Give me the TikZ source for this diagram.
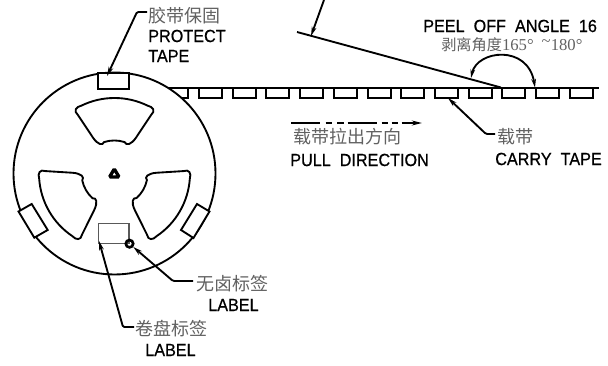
\documentclass[tikz,border=0pt]{standalone}
\usepackage{fontspec}
\usetikzlibrary{arrows.meta}
\newfontfamily\enfont[FakeStretch=0.92,FakeBold=0.6,WordSpace=2]{Liberation Sans}
\newfontfamily\cjkfont{Noto Sans CJK SC}
\newfontfamily\numfont{Liberation Serif}
\definecolor{cjkgray}{gray}{0.38}
\tikzset{
  en/.style={inner sep=0pt,anchor=west,font=\enfont\fontsize{13.2pt}{14pt}\selectfont},
  cn/.style={inner sep=0pt,anchor=west,text=cjkgray,font=\cjkfont\fontsize{13.5pt}{14pt}\selectfont},
  outline/.style={draw=black,line width=1.4pt,fill=white},
  thin outline/.style={draw=black!65,line width=.9pt},
  tapeline/.style={draw=black,line width=1.7pt},
  pocket/.style={draw=black,line width=1.5pt},
  leader/.style={draw=black,line width=1.4pt,-{Stealth[length=7pt,width=3.6pt]}},
}
\begin{document}
\begin{tikzpicture}[x=.75pt,y=.75pt,yscale=-1]
\useasboundingbox (0,0) rectangle (608,366);
% carrier tape
\foreach \i in {0,...,11}{
  \pgfmathsetmacro{\xa}{199+33.7*\i}
  \pgfmathsetmacro{\xb}{\xa+23}
  \draw[pocket,line join=miter] (\xa,88) -- (\xa,98) -- (\xb,98) -- (\xb,88);
}
\draw[pocket] (160,98) -- (188,98) -- (188,88);
\coordinate (tapeL) at (160,88);
\coordinate (tapeR) at (599,88);
\draw[tapeline] (tapeL) -- (tapeR);
% reel
\coordinate (C) at (114.5,173.5);
\node[circle,outline,minimum size=151.5pt,inner sep=0pt] (reel) at (C) {};
\foreach \a in {0,120,240}{
  \begin{scope}[shift={(C)},rotate=\a]
    \draw[line width=1.4pt,line join=round]
      (-116:75.5) arc[start angle=-116,end angle=-64,radius=56.625pt]
      .. controls (-60:77) and (-56.5:75) .. (-58:69)
      -- (-59:42)
      .. controls (-60:33) and (-67:30) .. (-72:33)
      arc[start angle=-72,end angle=-108,radius=25.125pt]
      .. controls (-113:30) and (-120:33) .. (-121:42)
      -- (-122:69)
      .. controls (-123.5:75) and (-120:77) .. cycle;
  \end{scope}
}
% hub
\draw[line width=2.5pt,rounded corners=1pt] (114.3,169) -- (109.5,177) -- (119.1,177) -- cycle;
% protect tapes
\node[outline,minimum width=23.2pt,minimum height=12pt,inner sep=0pt] (ptop) at (113.7,81) {};
\draw[outline] (18.5,211.5) coordinate (pl1) -- (31.7,204) -- (47.7,230) -- (34.3,237.7) -- cycle;
\draw[outline] (209.5,211.5) coordinate (pr1) -- (197,204) -- (181,230) -- (193.5,238) -- cycle;
% reel label
\node[thin outline,minimum width=22.8pt,minimum height=15pt,inner sep=0pt] (reellabel) at (113.8,233.7) {};
\node[circle,draw=black,line width=2pt,minimum size=5.5pt,inner sep=0pt] (dot) at (129.5,243.7) {};
% peel-off
\coordinate (peelO) at (501,87.5);
\coordinate (peelEnd) at (297,32);
\coordinate (peelHit) at (311,36);
\draw[line width=1.4pt] (peelO) -- (peelEnd);
\coordinate (arcA) at (471,78);
\draw[line width=1.4pt,{Stealth[length=6.5pt,width=3.5pt]}-{Stealth[length=6.5pt,width=3.5pt]}]
  (arcA) .. controls (477,50) and (528,44) .. (535,87.5);
% pull direction
\coordinate (pullA) at (291,123);
\coordinate (pullB) at (422,123);
\draw[line width=1.6pt,-{Stealth[length=7.5pt,width=3.6pt]},dash pattern=on 22pt off 4pt on 5pt off 3.5pt on 5pt off 3pt on 22pt off 3.5pt on 4.5pt off 3pt on 4.5pt off 3pt on 30pt]
  (pullA) -- (pullB);
% leaders
\coordinate (k1a) at (147,12); \coordinate (k1b) at (137,12);
\draw[leader,rounded corners=1pt] (k1a) -- (k1b) -- (107,76);
\coordinate (k2) at (324,0);
\draw[leader] (k2) -- (peelHit);
\coordinate (k3a) at (495,134); \coordinate (k3b) at (486,134);
\draw[leader,rounded corners=1pt] (k3a) -- (k3b) -- (448,98);
\coordinate (k4a) at (193,281); \coordinate (k4b) at (173,281);
\draw[leader,rounded corners=1pt] (k4a) -- (k4b) -- (dot);
\coordinate (k5a) at (134,327); \coordinate (k5b) at (123,327);
\draw[leader,rounded corners=1pt] (k5a) -- (k5b) -- (99,241);
% texts
\node[cn] (t1) at (148,16) {胶带保固};
\node[en] (t2) at (148,36) {PROTECT};
\node[en] (t3) at (148,56) {TAPE};
\node[en] (t4) at (423,26) {PEEL OFF ANGLE 16};
\node[cn,font=\cjkfont\fontsize{11.4pt}{12pt}\selectfont,text=cjkgray] (t5) at (441,45)
  {剥离角度{\numfont\fontsize{12.5pt}{13pt}\selectfont 165°\hspace{6pt}\raisebox{3pt}{\string~}180°}};
\node[cn] (t6) at (293,137) {载带拉出方向};
\node[en] (t7) at (290,160) {PULL DIRECTION};
\node[cn] (t8) at (497,137) {载带};
\node[en] (t9) at (495,159) {CARRY TAPE};
\node[cn] (t10) at (196,284) {无卤标签};
\node[en] (t11) at (208,305) {LABEL};
\node[cn] (t12) at (135,329) {卷盘标签};
\node[en] (t13) at (145,350) {LABEL};
\end{tikzpicture}
\end{document}
